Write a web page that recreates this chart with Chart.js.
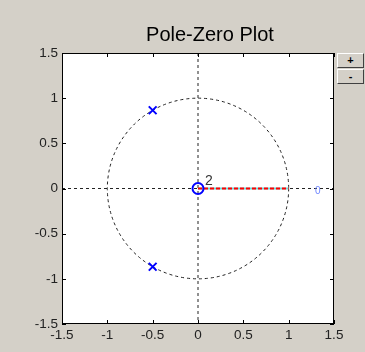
<!DOCTYPE html>
<html>
<head>
<meta charset="utf-8">
<script src="https://cdn.jsdelivr.net/npm/chart.js@4/dist/chart.umd.min.js"></script>
<style>
  html, body { margin: 0; padding: 0; background: #d4d0c8; }
  #wrap { position: relative; width: 365px; height: 352px; }
  .zbtn {
    position: absolute; left: 337px; width: 25px; height: 13px;
    background: #d4d0c8; border: 1px solid; border-color: #fff #404040 #404040 #fff;
    font: bold 11px "Liberation Sans", Arial, sans-serif; color: #000;
    text-align: center; line-height: 12px;
  }
</style>
</head>
<body>
<div id="wrap">
  <canvas id="pzChart" width="365" height="352"></canvas>
  <div class="zbtn" style="top:53px">+</div>
  <div class="zbtn" style="top:69px">-</div>
</div>
<script>
var titleText = 'Pole-Zero Plot';
var tickValues = [-1.5, -1, -0.5, 0, 0.5, 1, 1.5];
var tickLabels = ['-1.5', '-1', '-0.5', '0', '0.5', '1', '1.5'];

// poles (x) and zeros (o), real / imaginary parts
var poleRe = [-0.5, -0.5];
var poleIm = [0.866, -0.866];
var zeroRe = [0];
var zeroIm = [0];
var zeroMult = ['2'];

// real-axis segment between the zero and the unit circle
var segRe = [0, 1];
var segIm = [0, 0];

// small blue tag on the real axis
var tagRe = [1.32];
var tagIm = [-0.03];
var tagText = ['0'];

function toPoints(xs, ys) {
  var pts = [];
  for (var i = 0; i < xs.length; i++) {
    pts.push({ x: xs[i], y: ys[i] });
  }
  return pts;
}

function tickLabel(value) {
  var idx = tickValues.indexOf(Number(value.toFixed(2)));
  return idx === -1 ? '' : tickLabels[idx];
}

// white plot box, dashed axes, dashed unit circle
var backdropPlugin = {
  id: 'backdrop',
  beforeDatasetsDraw: function (chart) {
    var ctx = chart.ctx;
    var a = chart.chartArea;
    var xs = chart.scales.x;
    var ys = chart.scales.y;
    ctx.save();
    ctx.fillStyle = '#ffffff';
    ctx.fillRect(a.left, a.top, a.right - a.left, a.bottom - a.top);

    var x0 = xs.getPixelForValue(0);
    var y0 = ys.getPixelForValue(0);
    ctx.strokeStyle = '#222';
    ctx.lineWidth = 1;
    ctx.setLineDash([3, 3]);
    ctx.beginPath();
    ctx.moveTo(a.left, y0);
    ctx.lineTo(a.right, y0);
    ctx.moveTo(x0, a.top);
    ctx.lineTo(x0, a.bottom);
    ctx.stroke();

    var rx = xs.getPixelForValue(1) - x0;
    var ry = y0 - ys.getPixelForValue(1);
    ctx.beginPath();
    ctx.ellipse(x0, y0, rx, ry, 0, 0, Math.PI * 2);
    ctx.stroke();
    ctx.restore();
  },
  afterDraw: function (chart) {
    var ctx = chart.ctx;
    var a = chart.chartArea;
    var xs = chart.scales.x;
    var ys = chart.scales.y;
    ctx.save();
    ctx.strokeStyle = '#000';
    ctx.lineWidth = 1;
    ctx.strokeRect(Math.round(a.left) + 0.5, Math.round(a.top) + 0.5,
      Math.round(a.right - a.left) - 1, Math.round(a.bottom - a.top) - 1);

    // inward tick marks on all four sides
    ctx.beginPath();
    tickValues.forEach(function (v) {
      var px = Math.round(xs.getPixelForValue(v)) + 0.5;
      ctx.moveTo(px, a.bottom);
      ctx.lineTo(px, a.bottom - 4);
      ctx.moveTo(px, a.top);
      ctx.lineTo(px, a.top + 4);
      var py = Math.round(ys.getPixelForValue(v)) + 0.5;
      ctx.moveTo(a.left, py);
      ctx.lineTo(a.left + 4, py);
      ctx.moveTo(a.right, py);
      ctx.lineTo(a.right - 4, py);
    });
    ctx.stroke();

    // multiplicity next to the zero
    ctx.fillStyle = '#333';
    ctx.font = '14px "Liberation Sans", Arial, sans-serif';
    ctx.textAlign = 'left';
    ctx.textBaseline = 'alphabetic';
    for (var i = 0; i < zeroRe.length; i++) {
      ctx.fillText(zeroMult[i], xs.getPixelForValue(zeroRe[i]) + 7, ys.getPixelForValue(zeroIm[i]) - 4);
    }

    ctx.fillStyle = '#6f86ff';
    ctx.font = '10px "Liberation Sans", Arial, sans-serif';
    ctx.textAlign = 'center';
    ctx.textBaseline = 'middle';
    for (var j = 0; j < tagRe.length; j++) {
      ctx.fillText(tagText[j], xs.getPixelForValue(tagRe[j]), ys.getPixelForValue(tagIm[j]));
    }

    // title
    ctx.fillStyle = '#000';
    ctx.font = '20px "Liberation Sans", Arial, sans-serif';
    ctx.textAlign = 'center';
    ctx.textBaseline = 'middle';
    ctx.fillText(titleText, 210, 35);
    ctx.restore();
  }
};

var tickFont = { family: '"Liberation Sans", Arial, sans-serif', size: 13.5 };

new Chart(document.getElementById('pzChart').getContext('2d'), {
  type: 'scatter',
  data: {
    // lower index is painted on top
    datasets: [{
      data: toPoints(zeroRe, zeroIm),
      pointStyle: 'circle',
      pointRadius: 5.5,
      borderColor: '#0000ff',
      backgroundColor: 'rgba(0,0,0,0)',
      borderWidth: 2
    }, {
      data: toPoints(poleRe, poleIm),
      pointStyle: 'crossRot',
      pointRadius: 5.5,
      borderColor: '#0000ff',
      borderWidth: 2
    }, {
      type: 'line',
      data: toPoints(segRe, segIm),
      borderColor: '#ff0000',
      borderWidth: 2,
      borderDash: [4, 2],
      pointRadius: 0
    }, {
      type: 'line',
      data: toPoints(segRe, segIm),
      borderColor: 'rgb(110, 215, 215)',
      borderWidth: 2,
      pointRadius: 0
    }]
  },
  options: {
    responsive: false,
    animation: false,
    layout: { padding: { top: 53, right: 31, left: 0, bottom: 0 } },
    plugins: {
      legend: { display: false },
      tooltip: { enabled: false }
    },
    scales: {
      x: {
        type: 'linear',
        min: -1.5,
        max: 1.5,
        grid: { display: false, drawTicks: false, tickLength: 0 },
        border: { display: false },
        ticks: { stepSize: 0.5, padding: 3, color: '#222', font: tickFont, maxRotation: 0, callback: tickLabel },
        afterFit: function (scale) { scale.height = 28; }
      },
      y: {
        type: 'linear',
        min: -1.5,
        max: 1.5,
        grid: { display: false, drawTicks: false, tickLength: 0 },
        border: { display: false },
        ticks: { stepSize: 0.5, padding: 4, color: '#222', font: tickFont, callback: tickLabel },
        afterFit: function (scale) { scale.width = 62; }
      }
    }
  },
  plugins: [backdropPlugin]
});
</script>
</body>
</html>
